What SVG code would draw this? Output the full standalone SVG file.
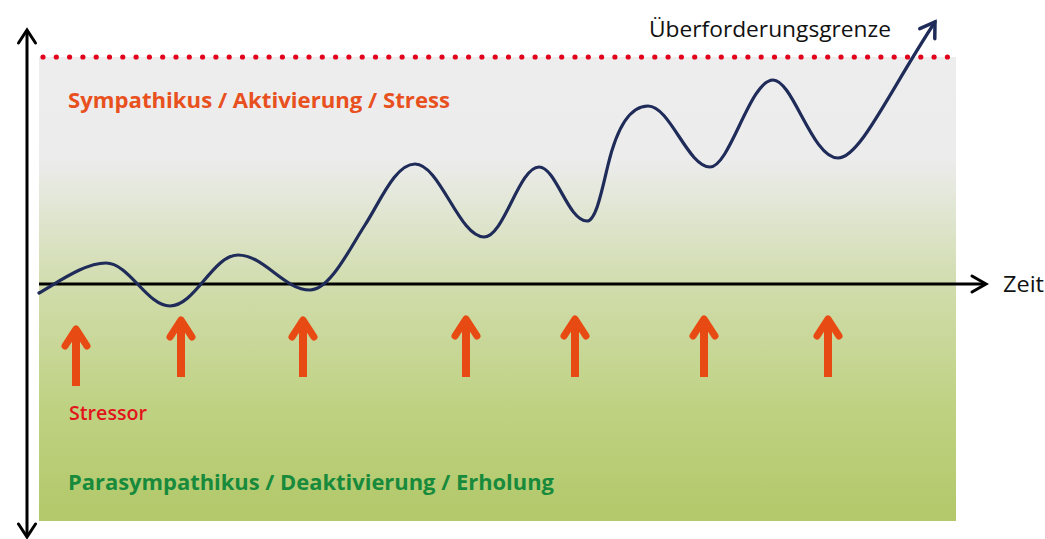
<svg xmlns="http://www.w3.org/2000/svg" width="1045" height="539" viewBox="0 0 1045 539">
  <style>
    .axis { fill: none; stroke: #000; stroke-width: 3; }
    .chev { fill: none; stroke: #000; stroke-width: 3; stroke-linecap: round; stroke-linejoin: miter; }
    .curve { fill: none; stroke: #1f2b58; stroke-width: 3.2; stroke-linecap: round; }
    .stressor-shaft { fill: none; stroke: #e84a13; stroke-width: 8; }
    .stressor-head { fill: none; stroke: #e84a13; stroke-width: 7; stroke-linecap: round; stroke-linejoin: round; }
    .lbl { font-family: "Open Sans", "Noto Sans", "Liberation Sans", sans-serif; }
    .zone-hi { fill: #e8501e; font-size: 22px; font-weight: 700; }
    .zone-lo { fill: #178a3c; font-size: 22px; font-weight: 700; }
    .stressor { fill: #e2141b; font-size: 19px; font-weight: 600; }
    .plain { fill: #111; font-size: 21px; font-weight: 500; }
  </style>
  <defs>
    <linearGradient id="bg" x1="0" y1="0" x2="0" y2="1">
      <stop offset="0" stop-color="#ededed"/>
      <stop offset="0.22" stop-color="#ececec"/>
      <stop offset="0.5" stop-color="#d0dcab"/>
      <stop offset="0.75" stop-color="#bfd283"/>
      <stop offset="1" stop-color="#b2c869"/>
    </linearGradient>
    <marker id="curveHead" markerUnits="userSpaceOnUse" markerWidth="30" markerHeight="30" refX="0" refY="0" viewBox="-20 -15 30 30" orient="auto" overflow="visible">
      <path d="M-14,-9 L0,0 L-14,9" fill="none" stroke="#1f2b58" stroke-width="3.5" stroke-linecap="round" stroke-linejoin="miter"/>
    </marker>
  </defs>

  <g id="background">
    <rect x="39" y="57" width="917" height="464" fill="url(#bg)"/>
  </g>

  <g id="limit-line">
    <line x1="43" y1="57" x2="956" y2="57" stroke="#e3001b" stroke-width="5.2" stroke-linecap="round" stroke-dasharray="0 13.3"/>
  </g>

  <g id="connectors">
    <g id="vertical-axis">
      <line class="axis" x1="27" y1="31" x2="27" y2="536"/>
      <path class="chev" d="M18.5,43 L27,30 L35.5,43"/>
      <path class="chev" d="M18.5,524 L27,537 L35.5,524"/>
    </g>
    <g id="time-axis">
      <line class="axis" x1="39" y1="284" x2="985" y2="284"/>
      <path class="chev" d="M972,276 L986,284 L972,292"/>
    </g>
    <path id="stress-curve" class="curve" marker-end="url(#curveHead)"
      d="M39,293 C60,281 85,263 106,263
         C129,263 147,306 170,306
         C195,306 213,255 238,255
         C264,255 284,290 310,290
         C330,290 350,248 365,225
         C380,202 395,164 415,164
         C440,164 459,237 484,237
         C504,237 519,167 539,167
         C556,167 568,221 587,221
         C596,221 602,190 608,165
         C614,140 625,106 648,106
         C670,106 688,167 710,167
         C730,167 750,80 773,80
         C793,80 812,158 838,158
         C860,158 890,90 935,22"/>
  </g>

  <g id="stressors">
    <g id="stressor-1"><path class="stressor-shaft" d="M76,386 V333"/><path class="stressor-head" d="M65,346 L76,329 L87,346"/></g>
    <g id="stressor-2"><path class="stressor-shaft" d="M181,377 V324"/><path class="stressor-head" d="M170,337 L181,320 L192,337"/></g>
    <g id="stressor-3"><path class="stressor-shaft" d="M303,377 V324"/><path class="stressor-head" d="M292,337 L303,320 L314,337"/></g>
    <g id="stressor-4"><path class="stressor-shaft" d="M466,377 V323"/><path class="stressor-head" d="M455,336 L466,319 L477,336"/></g>
    <g id="stressor-5"><path class="stressor-shaft" d="M575,377 V323"/><path class="stressor-head" d="M564,336 L575,319 L586,336"/></g>
    <g id="stressor-6"><path class="stressor-shaft" d="M704,377 V323"/><path class="stressor-head" d="M693,336 L704,319 L715,336"/></g>
    <g id="stressor-7"><path class="stressor-shaft" d="M828,377 V323"/><path class="stressor-head" d="M817,336 L828,319 L839,336"/></g>
  </g>

  <g id="labels">
    <text id="label-sympathikus" class="lbl zone-hi" x="68" y="108" textLength="382" lengthAdjust="spacingAndGlyphs">Sympathikus / Aktivierung / Stress</text>
    <text id="label-parasympathikus" class="lbl zone-lo" x="68" y="490" textLength="486" lengthAdjust="spacingAndGlyphs">Parasympathikus / Deaktivierung / Erholung</text>
    <text id="label-stressor" class="lbl stressor" x="69" y="420" textLength="78" lengthAdjust="spacingAndGlyphs">Stressor</text>
    <text id="label-grenze" class="lbl plain" x="649" y="37" textLength="242" lengthAdjust="spacingAndGlyphs">Überforderungsgrenze</text>
    <text id="label-zeit" class="lbl plain" x="1003" y="292" textLength="41" lengthAdjust="spacingAndGlyphs">Zeit</text>
  </g>
</svg>
